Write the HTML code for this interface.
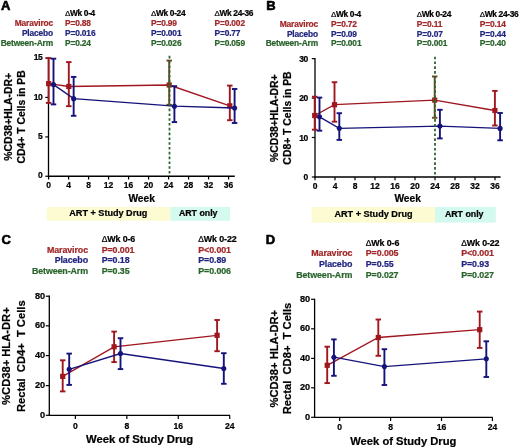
<!DOCTYPE html>
<html><head><meta charset="utf-8"><style>
html,body{margin:0;padding:0;background:#fff;width:520px;height:448px;overflow:hidden}
svg{display:block;will-change:transform}
text{font-family:"Liberation Sans", sans-serif;font-weight:bold}
</style></head><body>
<svg width="520" height="448" viewBox="0 0 520 448">
<rect width="520" height="448" fill="#fff"/>
<text x="0.9" y="10.3" font-size="13" fill="#000" text-anchor="start" stroke="#000" stroke-width="0.6">A</text>
<text x="53" y="25.6" font-size="8.4" fill="#a2282a" stroke="#a2282a" stroke-width="0.22" text-anchor="end" letter-spacing="-0.15">Maraviroc</text>
<text x="53" y="35.6" font-size="8.4" fill="#22267f" stroke="#22267f" stroke-width="0.22" text-anchor="end" letter-spacing="-0.15">Placebo</text>
<text x="53" y="45.6" font-size="8.4" fill="#2a642c" stroke="#2a642c" stroke-width="0.22" text-anchor="end" letter-spacing="-0.15">Between-Arm</text>
<text x="65" y="15.6" font-size="8.4" fill="#000" stroke="#000" stroke-width="0.22" letter-spacing="-0.35"><tspan font-weight="normal" font-size="7.9799999999999995">Δ</tspan>Wk 0-4</text>
<text x="65" y="25.6" font-size="8.4" fill="#a2282a" stroke="#a2282a" stroke-width="0.22" text-anchor="start" letter-spacing="-0.15">P=0.88</text>
<text x="65" y="35.6" font-size="8.4" fill="#22267f" stroke="#22267f" stroke-width="0.22" text-anchor="start" letter-spacing="-0.15">P=0.016</text>
<text x="65" y="45.6" font-size="8.4" fill="#2a642c" stroke="#2a642c" stroke-width="0.22" text-anchor="start" letter-spacing="-0.15">P=0.24</text>
<text x="151" y="15.6" font-size="8.4" fill="#000" stroke="#000" stroke-width="0.22" letter-spacing="-0.35"><tspan font-weight="normal" font-size="7.9799999999999995">Δ</tspan>Wk 0-24</text>
<text x="151" y="25.6" font-size="8.4" fill="#a2282a" stroke="#a2282a" stroke-width="0.22" text-anchor="start" letter-spacing="-0.15">P=0.99</text>
<text x="151" y="35.6" font-size="8.4" fill="#22267f" stroke="#22267f" stroke-width="0.22" text-anchor="start" letter-spacing="-0.15">P=0.001</text>
<text x="151" y="45.6" font-size="8.4" fill="#2a642c" stroke="#2a642c" stroke-width="0.22" text-anchor="start" letter-spacing="-0.15">P=0.026</text>
<text x="214.5" y="15.6" font-size="8.4" fill="#000" stroke="#000" stroke-width="0.22" letter-spacing="-0.35"><tspan font-weight="normal" font-size="7.9799999999999995">Δ</tspan>Wk 24-36</text>
<text x="214.5" y="25.6" font-size="8.4" fill="#a2282a" stroke="#a2282a" stroke-width="0.22" text-anchor="start" letter-spacing="-0.15">P=0.002</text>
<text x="214.5" y="35.6" font-size="8.4" fill="#22267f" stroke="#22267f" stroke-width="0.22" text-anchor="start" letter-spacing="-0.15">P=0.77</text>
<text x="214.5" y="45.6" font-size="8.4" fill="#2a642c" stroke="#2a642c" stroke-width="0.22" text-anchor="start" letter-spacing="-0.15">P=0.059</text>
<rect x="46.7" y="207" width="123.6" height="13.8" fill="#fcfbd2"/>
<rect x="170.3" y="207" width="59.7" height="13.8" fill="#d4f9ee"/>
<text x="108.3" y="216.1" font-size="9.1" fill="#000" stroke="#000" stroke-width="0.22" text-anchor="middle">ART + Study Drug</text>
<text x="198.2" y="216.1" font-size="8.8" fill="#000" stroke="#000" stroke-width="0.22" text-anchor="middle">ART only</text>
<line x1="48.5" y1="57.5" x2="48.5" y2="176.85" stroke="#000" stroke-width="1.3"/>
<line x1="47.9" y1="176.25" x2="234.8" y2="176.25" stroke="#000" stroke-width="1.3"/>
<line x1="45.3" y1="58.1" x2="48.5" y2="58.1" stroke="#000" stroke-width="1.2"/>
<text x="42.2" y="60.2" font-size="8.5" fill="#000" stroke="#000" stroke-width="0.22" text-anchor="end" letter-spacing="-0.45">15</text>
<line x1="45.3" y1="97.4" x2="48.5" y2="97.4" stroke="#000" stroke-width="1.2"/>
<text x="42.2" y="99.5" font-size="8.5" fill="#000" stroke="#000" stroke-width="0.22" text-anchor="end" letter-spacing="-0.45">10</text>
<line x1="45.3" y1="136.9" x2="48.5" y2="136.9" stroke="#000" stroke-width="1.2"/>
<text x="42.2" y="139.0" font-size="8.5" fill="#000" stroke="#000" stroke-width="0.22" text-anchor="end" letter-spacing="-0.45">5</text>
<line x1="45.3" y1="176.25" x2="48.5" y2="176.25" stroke="#000" stroke-width="1.2"/>
<text x="42.2" y="178.35" font-size="8.5" fill="#000" stroke="#000" stroke-width="0.22" text-anchor="end" letter-spacing="-0.45">0</text>
<line x1="48.6" y1="176.25" x2="48.6" y2="179.45" stroke="#000" stroke-width="1.2"/>
<text x="48.6" y="188" font-size="8.5" fill="#000" stroke="#000" stroke-width="0.22" text-anchor="middle">0</text>
<line x1="68.6" y1="176.25" x2="68.6" y2="179.45" stroke="#000" stroke-width="1.2"/>
<text x="68.6" y="188" font-size="8.5" fill="#000" stroke="#000" stroke-width="0.22" text-anchor="middle">4</text>
<line x1="88.6" y1="176.25" x2="88.6" y2="179.45" stroke="#000" stroke-width="1.2"/>
<text x="88.6" y="188" font-size="8.5" fill="#000" stroke="#000" stroke-width="0.22" text-anchor="middle">8</text>
<line x1="108.6" y1="176.25" x2="108.6" y2="179.45" stroke="#000" stroke-width="1.2"/>
<text x="108.6" y="188" font-size="8.5" fill="#000" stroke="#000" stroke-width="0.22" text-anchor="middle">12</text>
<line x1="128.6" y1="176.25" x2="128.6" y2="179.45" stroke="#000" stroke-width="1.2"/>
<text x="128.6" y="188" font-size="8.5" fill="#000" stroke="#000" stroke-width="0.22" text-anchor="middle">16</text>
<line x1="148.6" y1="176.25" x2="148.6" y2="179.45" stroke="#000" stroke-width="1.2"/>
<text x="148.6" y="188" font-size="8.5" fill="#000" stroke="#000" stroke-width="0.22" text-anchor="middle">20</text>
<line x1="168.6" y1="176.25" x2="168.6" y2="179.45" stroke="#000" stroke-width="1.2"/>
<text x="168.6" y="188" font-size="8.5" fill="#000" stroke="#000" stroke-width="0.22" text-anchor="middle">24</text>
<line x1="188.6" y1="176.25" x2="188.6" y2="179.45" stroke="#000" stroke-width="1.2"/>
<text x="188.6" y="188" font-size="8.5" fill="#000" stroke="#000" stroke-width="0.22" text-anchor="middle">28</text>
<line x1="208.6" y1="176.25" x2="208.6" y2="179.45" stroke="#000" stroke-width="1.2"/>
<text x="208.6" y="188" font-size="8.5" fill="#000" stroke="#000" stroke-width="0.22" text-anchor="middle">32</text>
<line x1="228.6" y1="176.25" x2="228.6" y2="179.45" stroke="#000" stroke-width="1.2"/>
<text x="228.6" y="188" font-size="8.5" fill="#000" stroke="#000" stroke-width="0.22" text-anchor="middle">36</text>
<text x="141.6" y="201.5" font-size="10.2" fill="#000" stroke="#000" stroke-width="0.22" text-anchor="middle">Week</text>
<text transform="translate(12,116.8) rotate(-90)" font-size="10.4" fill="#000" stroke="#000" stroke-width="0.22" text-anchor="middle" style="white-space:pre">%CD38+HLA-DR+</text>
<text transform="translate(24.6,116.9) rotate(-90)" font-size="10.4" fill="#000" stroke="#000" stroke-width="0.22" text-anchor="middle" style="white-space:pre">CD4+ T Cells in PB</text>
<path d="M48.65,83.65 L68.8,86.5 L169.2,85 L229.8,105.8" fill="none" stroke="#a0161e" stroke-width="1.35"/>
<line x1="48.65" y1="58.1" x2="48.65" y2="102.9" stroke="#a0161e" stroke-width="1.9"/>
<line x1="45.9" y1="58.1" x2="51.4" y2="58.1" stroke="#a0161e" stroke-width="1.9"/>
<line x1="45.9" y1="102.9" x2="51.4" y2="102.9" stroke="#a0161e" stroke-width="1.9"/>
<line x1="68.8" y1="62.1" x2="68.8" y2="106.2" stroke="#a0161e" stroke-width="1.9"/>
<line x1="66.05" y1="62.1" x2="71.55" y2="62.1" stroke="#a0161e" stroke-width="1.9"/>
<line x1="66.05" y1="106.2" x2="71.55" y2="106.2" stroke="#a0161e" stroke-width="1.9"/>
<line x1="169.2" y1="60.6" x2="169.2" y2="104.8" stroke="#6a4424" stroke-width="1.9"/>
<line x1="166.45" y1="60.6" x2="171.95" y2="60.6" stroke="#6a4424" stroke-width="1.9"/>
<line x1="166.45" y1="104.8" x2="171.95" y2="104.8" stroke="#6a4424" stroke-width="1.9"/>
<line x1="229.8" y1="85.6" x2="229.8" y2="120.2" stroke="#a0161e" stroke-width="1.9"/>
<line x1="227.05" y1="85.6" x2="232.55" y2="85.6" stroke="#a0161e" stroke-width="1.9"/>
<line x1="227.05" y1="120.2" x2="232.55" y2="120.2" stroke="#a0161e" stroke-width="1.9"/>
<rect x="46.05" y="81.05000000000001" width="5.2" height="5.2" fill="#a0161e"/>
<rect x="66.2" y="83.9" width="5.2" height="5.2" fill="#a0161e"/>
<rect x="166.6" y="82.4" width="5.2" height="5.2" fill="#8a2c22"/>
<rect x="227.20000000000002" y="103.2" width="5.2" height="5.2" fill="#a0161e"/>
<path d="M53.5,84.6 L73.65,98.65 L174.4,106.2 L234.6,108" fill="none" stroke="#15137a" stroke-width="1.35"/>
<line x1="53.5" y1="58.7" x2="53.5" y2="104.4" stroke="#15137a" stroke-width="1.9"/>
<line x1="50.75" y1="58.7" x2="56.25" y2="58.7" stroke="#15137a" stroke-width="1.9"/>
<line x1="50.75" y1="104.4" x2="56.25" y2="104.4" stroke="#15137a" stroke-width="1.9"/>
<line x1="73.65" y1="76.9" x2="73.65" y2="115.8" stroke="#15137a" stroke-width="1.9"/>
<line x1="70.9" y1="76.9" x2="76.4" y2="76.9" stroke="#15137a" stroke-width="1.9"/>
<line x1="70.9" y1="115.8" x2="76.4" y2="115.8" stroke="#15137a" stroke-width="1.9"/>
<line x1="174.4" y1="86.2" x2="174.4" y2="122.1" stroke="#15137a" stroke-width="1.9"/>
<line x1="171.65" y1="86.2" x2="177.15" y2="86.2" stroke="#15137a" stroke-width="1.9"/>
<line x1="171.65" y1="122.1" x2="177.15" y2="122.1" stroke="#15137a" stroke-width="1.9"/>
<line x1="234.6" y1="89" x2="234.6" y2="123" stroke="#15137a" stroke-width="1.9"/>
<line x1="231.85" y1="89" x2="237.35" y2="89" stroke="#15137a" stroke-width="1.9"/>
<line x1="231.85" y1="123" x2="237.35" y2="123" stroke="#15137a" stroke-width="1.9"/>
<circle cx="53.5" cy="84.6" r="2.55" fill="#15137a"/>
<circle cx="73.65" cy="98.65" r="2.55" fill="#15137a"/>
<circle cx="174.4" cy="106.2" r="2.55" fill="#15137a"/>
<circle cx="234.6" cy="108" r="2.55" fill="#15137a"/>
<line x1="169.5" y1="55.8" x2="169.5" y2="176" stroke="#2b682b" stroke-width="1.8" stroke-dasharray="2.6,2.2"/>
<text x="266.3" y="10.3" font-size="13" fill="#000" text-anchor="start" stroke="#000" stroke-width="0.6">B</text>
<text x="318" y="26.8" font-size="8.4" fill="#a2282a" stroke="#a2282a" stroke-width="0.22" text-anchor="end" letter-spacing="-0.15">Maraviroc</text>
<text x="318" y="36.7" font-size="8.4" fill="#22267f" stroke="#22267f" stroke-width="0.22" text-anchor="end" letter-spacing="-0.15">Placebo</text>
<text x="318" y="46.4" font-size="8.4" fill="#2a642c" stroke="#2a642c" stroke-width="0.22" text-anchor="end" letter-spacing="-0.15">Between-Arm</text>
<text x="331" y="17" font-size="8.4" fill="#000" stroke="#000" stroke-width="0.22" letter-spacing="-0.35"><tspan font-weight="normal" font-size="7.9799999999999995">Δ</tspan>Wk 0-4</text>
<text x="331" y="26.8" font-size="8.4" fill="#a2282a" stroke="#a2282a" stroke-width="0.22" text-anchor="start" letter-spacing="-0.15">P=0.72</text>
<text x="331" y="36.7" font-size="8.4" fill="#22267f" stroke="#22267f" stroke-width="0.22" text-anchor="start" letter-spacing="-0.15">P=0.09</text>
<text x="331" y="46.4" font-size="8.4" fill="#2a642c" stroke="#2a642c" stroke-width="0.22" text-anchor="start" letter-spacing="-0.15">P=0.001</text>
<text x="416.8" y="17" font-size="8.4" fill="#000" stroke="#000" stroke-width="0.22" letter-spacing="-0.35"><tspan font-weight="normal" font-size="7.9799999999999995">Δ</tspan>Wk 0-24</text>
<text x="416.8" y="26.8" font-size="8.4" fill="#a2282a" stroke="#a2282a" stroke-width="0.22" text-anchor="start" letter-spacing="-0.15">P=0.11</text>
<text x="416.8" y="36.7" font-size="8.4" fill="#22267f" stroke="#22267f" stroke-width="0.22" text-anchor="start" letter-spacing="-0.15">P=0.07</text>
<text x="416.8" y="46.4" font-size="8.4" fill="#2a642c" stroke="#2a642c" stroke-width="0.22" text-anchor="start" letter-spacing="-0.15">P=0.001</text>
<text x="479.8" y="17" font-size="8.4" fill="#000" stroke="#000" stroke-width="0.22" letter-spacing="-0.35"><tspan font-weight="normal" font-size="7.9799999999999995">Δ</tspan>Wk 24-36</text>
<text x="479.8" y="26.8" font-size="8.4" fill="#a2282a" stroke="#a2282a" stroke-width="0.22" text-anchor="start" letter-spacing="-0.15">P=0.14</text>
<text x="479.8" y="36.7" font-size="8.4" fill="#22267f" stroke="#22267f" stroke-width="0.22" text-anchor="start" letter-spacing="-0.15">P=0.44</text>
<text x="479.8" y="46.4" font-size="8.4" fill="#2a642c" stroke="#2a642c" stroke-width="0.22" text-anchor="start" letter-spacing="-0.15">P=0.40</text>
<rect x="311.5" y="207" width="123.5" height="15.6" fill="#fcfbd2"/>
<rect x="435" y="207" width="60.8" height="15.6" fill="#d4f9ee"/>
<text x="373.5" y="217.4" font-size="9.1" fill="#000" stroke="#000" stroke-width="0.22" text-anchor="middle">ART + Study Drug</text>
<text x="464.2" y="217.4" font-size="8.8" fill="#000" stroke="#000" stroke-width="0.22" text-anchor="middle">ART only</text>
<line x1="315" y1="58" x2="315" y2="177.6" stroke="#000" stroke-width="1.3"/>
<line x1="314.4" y1="177" x2="500.6" y2="177" stroke="#000" stroke-width="1.3"/>
<line x1="311.8" y1="58.65" x2="315" y2="58.65" stroke="#000" stroke-width="1.2"/>
<text x="307.9" y="61.65" font-size="8.5" fill="#000" stroke="#000" stroke-width="0.22" text-anchor="end" letter-spacing="-0.45">30</text>
<line x1="311.8" y1="98.1" x2="315" y2="98.1" stroke="#000" stroke-width="1.2"/>
<text x="307.9" y="101.1" font-size="8.5" fill="#000" stroke="#000" stroke-width="0.22" text-anchor="end" letter-spacing="-0.45">20</text>
<line x1="311.8" y1="137.5" x2="315" y2="137.5" stroke="#000" stroke-width="1.2"/>
<text x="307.9" y="140.5" font-size="8.5" fill="#000" stroke="#000" stroke-width="0.22" text-anchor="end" letter-spacing="-0.45">10</text>
<line x1="311.8" y1="177" x2="315" y2="177" stroke="#000" stroke-width="1.2"/>
<text x="307.9" y="180.0" font-size="8.5" fill="#000" stroke="#000" stroke-width="0.22" text-anchor="end" letter-spacing="-0.45">0</text>
<line x1="315" y1="177" x2="315" y2="180.2" stroke="#000" stroke-width="1.2"/>
<text x="315" y="189" font-size="8.5" fill="#000" stroke="#000" stroke-width="0.22" text-anchor="middle">0</text>
<line x1="335" y1="177" x2="335" y2="180.2" stroke="#000" stroke-width="1.2"/>
<text x="335" y="189" font-size="8.5" fill="#000" stroke="#000" stroke-width="0.22" text-anchor="middle">4</text>
<line x1="355" y1="177" x2="355" y2="180.2" stroke="#000" stroke-width="1.2"/>
<text x="355" y="189" font-size="8.5" fill="#000" stroke="#000" stroke-width="0.22" text-anchor="middle">8</text>
<line x1="375" y1="177" x2="375" y2="180.2" stroke="#000" stroke-width="1.2"/>
<text x="375" y="189" font-size="8.5" fill="#000" stroke="#000" stroke-width="0.22" text-anchor="middle">12</text>
<line x1="395" y1="177" x2="395" y2="180.2" stroke="#000" stroke-width="1.2"/>
<text x="395" y="189" font-size="8.5" fill="#000" stroke="#000" stroke-width="0.22" text-anchor="middle">16</text>
<line x1="415" y1="177" x2="415" y2="180.2" stroke="#000" stroke-width="1.2"/>
<text x="415" y="189" font-size="8.5" fill="#000" stroke="#000" stroke-width="0.22" text-anchor="middle">20</text>
<line x1="435" y1="177" x2="435" y2="180.2" stroke="#000" stroke-width="1.2"/>
<text x="435" y="189" font-size="8.5" fill="#000" stroke="#000" stroke-width="0.22" text-anchor="middle">24</text>
<line x1="455" y1="177" x2="455" y2="180.2" stroke="#000" stroke-width="1.2"/>
<text x="455" y="189" font-size="8.5" fill="#000" stroke="#000" stroke-width="0.22" text-anchor="middle">28</text>
<line x1="475" y1="177" x2="475" y2="180.2" stroke="#000" stroke-width="1.2"/>
<text x="475" y="189" font-size="8.5" fill="#000" stroke="#000" stroke-width="0.22" text-anchor="middle">32</text>
<line x1="495" y1="177" x2="495" y2="180.2" stroke="#000" stroke-width="1.2"/>
<text x="495" y="189" font-size="8.5" fill="#000" stroke="#000" stroke-width="0.22" text-anchor="middle">36</text>
<text x="407.6" y="202.3" font-size="10.2" fill="#000" stroke="#000" stroke-width="0.22" text-anchor="middle">Week</text>
<text transform="translate(278.2,118.2) rotate(-90)" font-size="10.4" fill="#000" stroke="#000" stroke-width="0.22" text-anchor="middle" style="white-space:pre">%CD38+HLA-DR+</text>
<text transform="translate(290.8,118) rotate(-90)" font-size="10.4" fill="#000" stroke="#000" stroke-width="0.22" text-anchor="middle" style="white-space:pre">CD8+ T Cells in PB</text>
<path d="M314.7,115.5 L334.5,104.7 L434.7,100.1 L494.9,110.5" fill="none" stroke="#a0161e" stroke-width="1.35"/>
<line x1="314.7" y1="96.7" x2="314.7" y2="129.7" stroke="#a0161e" stroke-width="1.9"/>
<line x1="311.95" y1="96.7" x2="317.45" y2="96.7" stroke="#a0161e" stroke-width="1.9"/>
<line x1="311.95" y1="129.7" x2="317.45" y2="129.7" stroke="#a0161e" stroke-width="1.9"/>
<line x1="334.5" y1="82.2" x2="334.5" y2="121.7" stroke="#a0161e" stroke-width="1.9"/>
<line x1="331.75" y1="82.2" x2="337.25" y2="82.2" stroke="#a0161e" stroke-width="1.9"/>
<line x1="331.75" y1="121.7" x2="337.25" y2="121.7" stroke="#a0161e" stroke-width="1.9"/>
<line x1="434.7" y1="76.5" x2="434.7" y2="117.8" stroke="#6a4424" stroke-width="1.9"/>
<line x1="431.95" y1="76.5" x2="437.45" y2="76.5" stroke="#6a4424" stroke-width="1.9"/>
<line x1="431.95" y1="117.8" x2="437.45" y2="117.8" stroke="#6a4424" stroke-width="1.9"/>
<line x1="494.9" y1="90.9" x2="494.9" y2="125.5" stroke="#a0161e" stroke-width="1.9"/>
<line x1="492.15" y1="90.9" x2="497.65" y2="90.9" stroke="#a0161e" stroke-width="1.9"/>
<line x1="492.15" y1="125.5" x2="497.65" y2="125.5" stroke="#a0161e" stroke-width="1.9"/>
<rect x="312.09999999999997" y="112.9" width="5.2" height="5.2" fill="#a0161e"/>
<rect x="331.9" y="102.10000000000001" width="5.2" height="5.2" fill="#a0161e"/>
<rect x="432.09999999999997" y="97.5" width="5.2" height="5.2" fill="#8a2c22"/>
<rect x="492.29999999999995" y="107.9" width="5.2" height="5.2" fill="#a0161e"/>
<path d="M319.5,116.8 L339.3,128.3 L439.9,126.1 L500.1,128.4" fill="none" stroke="#15137a" stroke-width="1.35"/>
<line x1="319.5" y1="97.6" x2="319.5" y2="130.7" stroke="#15137a" stroke-width="1.9"/>
<line x1="316.75" y1="97.6" x2="322.25" y2="97.6" stroke="#15137a" stroke-width="1.9"/>
<line x1="316.75" y1="130.7" x2="322.25" y2="130.7" stroke="#15137a" stroke-width="1.9"/>
<line x1="339.3" y1="113.2" x2="339.3" y2="139.9" stroke="#15137a" stroke-width="1.9"/>
<line x1="336.55" y1="113.2" x2="342.05" y2="113.2" stroke="#15137a" stroke-width="1.9"/>
<line x1="336.55" y1="139.9" x2="342.05" y2="139.9" stroke="#15137a" stroke-width="1.9"/>
<line x1="439.9" y1="109.8" x2="439.9" y2="138.4" stroke="#15137a" stroke-width="1.9"/>
<line x1="437.15" y1="109.8" x2="442.65" y2="109.8" stroke="#15137a" stroke-width="1.9"/>
<line x1="437.15" y1="138.4" x2="442.65" y2="138.4" stroke="#15137a" stroke-width="1.9"/>
<line x1="500.1" y1="113.0" x2="500.1" y2="140.3" stroke="#15137a" stroke-width="1.9"/>
<line x1="497.35" y1="113.0" x2="502.85" y2="113.0" stroke="#15137a" stroke-width="1.9"/>
<line x1="497.35" y1="140.3" x2="502.85" y2="140.3" stroke="#15137a" stroke-width="1.9"/>
<circle cx="319.5" cy="116.8" r="2.55" fill="#15137a"/>
<circle cx="339.3" cy="128.3" r="2.55" fill="#15137a"/>
<circle cx="439.9" cy="126.1" r="2.55" fill="#15137a"/>
<circle cx="500.1" cy="128.4" r="2.55" fill="#15137a"/>
<line x1="435" y1="56.7" x2="435" y2="177" stroke="#2b682b" stroke-width="1.8" stroke-dasharray="2.6,2.2"/>
<text x="1.6" y="243.9" font-size="13" fill="#000" text-anchor="start" stroke="#000" stroke-width="0.6">C</text>
<text x="88" y="252.6" font-size="8.9" fill="#a2282a" stroke="#a2282a" stroke-width="0.22" text-anchor="end" letter-spacing="-0.1">Maraviroc</text>
<text x="88" y="263.4" font-size="8.9" fill="#22267f" stroke="#22267f" stroke-width="0.22" text-anchor="end" letter-spacing="-0.1">Placebo</text>
<text x="88" y="274.1" font-size="8.9" fill="#2a642c" stroke="#2a642c" stroke-width="0.22" text-anchor="end" letter-spacing="-0.1">Between-Arm</text>
<text x="101.7" y="241.8" font-size="8.9" fill="#000" stroke="#000" stroke-width="0.22" letter-spacing="-0.12"><tspan font-weight="normal" font-size="8.455">Δ</tspan>Wk 0-6</text>
<text x="101.7" y="252.6" font-size="8.9" fill="#a2282a" stroke="#a2282a" stroke-width="0.22" text-anchor="start" letter-spacing="-0.1">P=0.001</text>
<text x="101.7" y="263.4" font-size="8.9" fill="#22267f" stroke="#22267f" stroke-width="0.22" text-anchor="start" letter-spacing="-0.1">P=0.18</text>
<text x="101.7" y="274.1" font-size="8.9" fill="#2a642c" stroke="#2a642c" stroke-width="0.22" text-anchor="start" letter-spacing="-0.1">P=0.35</text>
<text x="198.3" y="241.8" font-size="8.9" fill="#000" stroke="#000" stroke-width="0.22" letter-spacing="-0.12"><tspan font-weight="normal" font-size="8.455">Δ</tspan>Wk 0-22</text>
<text x="198.3" y="252.6" font-size="8.9" fill="#a2282a" stroke="#a2282a" stroke-width="0.22" text-anchor="start" letter-spacing="-0.1">P&lt;0.001</text>
<text x="198.3" y="263.4" font-size="8.9" fill="#22267f" stroke="#22267f" stroke-width="0.22" text-anchor="start" letter-spacing="-0.1">P=0.89</text>
<text x="198.3" y="274.1" font-size="8.9" fill="#2a642c" stroke="#2a642c" stroke-width="0.22" text-anchor="start" letter-spacing="-0.1">P=0.006</text>
<line x1="49.3" y1="295.6" x2="49.3" y2="415.90000000000003" stroke="#000" stroke-width="1.3"/>
<line x1="48.699999999999996" y1="415.3" x2="230" y2="415.3" stroke="#000" stroke-width="1.3"/>
<line x1="45.8" y1="296.2" x2="49.3" y2="296.2" stroke="#000" stroke-width="1.2"/>
<text x="45.2" y="298.7" font-size="9.2" fill="#000" stroke="#000" stroke-width="0.22" text-anchor="end">80</text>
<line x1="45.8" y1="325.8" x2="49.3" y2="325.8" stroke="#000" stroke-width="1.2"/>
<text x="45.2" y="328.3" font-size="9.2" fill="#000" stroke="#000" stroke-width="0.22" text-anchor="end">60</text>
<line x1="45.8" y1="355.6" x2="49.3" y2="355.6" stroke="#000" stroke-width="1.2"/>
<text x="45.2" y="358.1" font-size="9.2" fill="#000" stroke="#000" stroke-width="0.22" text-anchor="end">40</text>
<line x1="45.8" y1="385.6" x2="49.3" y2="385.6" stroke="#000" stroke-width="1.2"/>
<text x="45.2" y="388.1" font-size="9.2" fill="#000" stroke="#000" stroke-width="0.22" text-anchor="end">20</text>
<line x1="45.8" y1="415.3" x2="49.3" y2="415.3" stroke="#000" stroke-width="1.2"/>
<text x="45.2" y="417.8" font-size="9.2" fill="#000" stroke="#000" stroke-width="0.22" text-anchor="end">0</text>
<line x1="75.4" y1="415.3" x2="75.4" y2="418.90000000000003" stroke="#000" stroke-width="1.2"/>
<text x="75.4" y="428.8" font-size="8.6" fill="#000" stroke="#000" stroke-width="0.22" text-anchor="middle">0</text>
<line x1="126.84" y1="415.3" x2="126.84" y2="418.90000000000003" stroke="#000" stroke-width="1.2"/>
<text x="126.84" y="428.8" font-size="8.6" fill="#000" stroke="#000" stroke-width="0.22" text-anchor="middle">8</text>
<line x1="178.28" y1="415.3" x2="178.28" y2="418.90000000000003" stroke="#000" stroke-width="1.2"/>
<text x="178.28" y="428.8" font-size="8.6" fill="#000" stroke="#000" stroke-width="0.22" text-anchor="middle">16</text>
<line x1="229.72" y1="415.3" x2="229.72" y2="418.90000000000003" stroke="#000" stroke-width="1.2"/>
<text x="229.72" y="428.8" font-size="8.6" fill="#000" stroke="#000" stroke-width="0.22" text-anchor="middle">24</text>
<text x="139.6" y="443.3" font-size="11.3" fill="#000" stroke="#000" stroke-width="0.22" text-anchor="middle">Week of Study Drug</text>
<text transform="translate(10.4,356.1) rotate(-90)" font-size="11.2" fill="#000" stroke="#000" stroke-width="0.22" text-anchor="middle" style="white-space:pre">%CD38+ HLA-DR+</text>
<text transform="translate(25.4,356.2) rotate(-90)" font-size="11.2" fill="#000" stroke="#000" stroke-width="0.22" text-anchor="middle" style="white-space:pre">Rectal  CD4+  T Cells</text>
<path d="M62.7,376.4 L114.1,346.8 L217.1,335.3" fill="none" stroke="#a0161e" stroke-width="1.35"/>
<line x1="62.7" y1="360.3" x2="62.7" y2="391.4" stroke="#a0161e" stroke-width="1.9"/>
<line x1="59.95" y1="360.3" x2="65.45" y2="360.3" stroke="#a0161e" stroke-width="1.9"/>
<line x1="59.95" y1="391.4" x2="65.45" y2="391.4" stroke="#a0161e" stroke-width="1.9"/>
<line x1="114.1" y1="331.6" x2="114.1" y2="362.1" stroke="#a0161e" stroke-width="1.9"/>
<line x1="111.35" y1="331.6" x2="116.85" y2="331.6" stroke="#a0161e" stroke-width="1.9"/>
<line x1="111.35" y1="362.1" x2="116.85" y2="362.1" stroke="#a0161e" stroke-width="1.9"/>
<line x1="217.1" y1="320.0" x2="217.1" y2="351.2" stroke="#a0161e" stroke-width="1.9"/>
<line x1="214.35" y1="320.0" x2="219.85" y2="320.0" stroke="#a0161e" stroke-width="1.9"/>
<line x1="214.35" y1="351.2" x2="219.85" y2="351.2" stroke="#a0161e" stroke-width="1.9"/>
<rect x="60.1" y="373.79999999999995" width="5.2" height="5.2" fill="#a0161e"/>
<rect x="111.5" y="344.2" width="5.2" height="5.2" fill="#a0161e"/>
<rect x="214.5" y="332.7" width="5.2" height="5.2" fill="#a0161e"/>
<path d="M69.2,369.3 L120.5,353.5 L223.8,368.5" fill="none" stroke="#15137a" stroke-width="1.35"/>
<line x1="69.2" y1="353.6" x2="69.2" y2="384.9" stroke="#15137a" stroke-width="1.9"/>
<line x1="66.45" y1="353.6" x2="71.95" y2="353.6" stroke="#15137a" stroke-width="1.9"/>
<line x1="66.45" y1="384.9" x2="71.95" y2="384.9" stroke="#15137a" stroke-width="1.9"/>
<line x1="120.5" y1="338.2" x2="120.5" y2="369.1" stroke="#15137a" stroke-width="1.9"/>
<line x1="117.75" y1="338.2" x2="123.25" y2="338.2" stroke="#15137a" stroke-width="1.9"/>
<line x1="117.75" y1="369.1" x2="123.25" y2="369.1" stroke="#15137a" stroke-width="1.9"/>
<line x1="223.8" y1="353.2" x2="223.8" y2="383.8" stroke="#15137a" stroke-width="1.9"/>
<line x1="221.05" y1="353.2" x2="226.55" y2="353.2" stroke="#15137a" stroke-width="1.9"/>
<line x1="221.05" y1="383.8" x2="226.55" y2="383.8" stroke="#15137a" stroke-width="1.9"/>
<circle cx="69.2" cy="369.3" r="2.55" fill="#15137a"/>
<circle cx="120.5" cy="353.5" r="2.55" fill="#15137a"/>
<circle cx="223.8" cy="368.5" r="2.55" fill="#15137a"/>
<text x="265.8" y="244.1" font-size="13" fill="#000" text-anchor="start" stroke="#000" stroke-width="0.6">D</text>
<text x="352.3" y="256.2" font-size="8.9" fill="#a2282a" stroke="#a2282a" stroke-width="0.22" text-anchor="end" letter-spacing="-0.1">Maraviroc</text>
<text x="352.3" y="267" font-size="8.9" fill="#22267f" stroke="#22267f" stroke-width="0.22" text-anchor="end" letter-spacing="-0.1">Placebo</text>
<text x="352.3" y="277.7" font-size="8.9" fill="#2a642c" stroke="#2a642c" stroke-width="0.22" text-anchor="end" letter-spacing="-0.1">Between-Arm</text>
<text x="365.8" y="246" font-size="8.9" fill="#000" stroke="#000" stroke-width="0.22" letter-spacing="-0.12"><tspan font-weight="normal" font-size="8.455">Δ</tspan>Wk 0-6</text>
<text x="365.8" y="256.2" font-size="8.9" fill="#a2282a" stroke="#a2282a" stroke-width="0.22" text-anchor="start" letter-spacing="-0.1">P=0.005</text>
<text x="365.8" y="267" font-size="8.9" fill="#22267f" stroke="#22267f" stroke-width="0.22" text-anchor="start" letter-spacing="-0.1">P=0.55</text>
<text x="365.8" y="277.7" font-size="8.9" fill="#2a642c" stroke="#2a642c" stroke-width="0.22" text-anchor="start" letter-spacing="-0.1">P=0.027</text>
<text x="461.2" y="246" font-size="8.9" fill="#000" stroke="#000" stroke-width="0.22" letter-spacing="-0.12"><tspan font-weight="normal" font-size="8.455">Δ</tspan>Wk 0-22</text>
<text x="461.2" y="256.2" font-size="8.9" fill="#a2282a" stroke="#a2282a" stroke-width="0.22" text-anchor="start" letter-spacing="-0.1">P&lt;0.001</text>
<text x="461.2" y="267" font-size="8.9" fill="#22267f" stroke="#22267f" stroke-width="0.22" text-anchor="start" letter-spacing="-0.1">P=0.93</text>
<text x="461.2" y="277.7" font-size="8.9" fill="#2a642c" stroke="#2a642c" stroke-width="0.22" text-anchor="start" letter-spacing="-0.1">P=0.027</text>
<line x1="314.6" y1="298.7" x2="314.6" y2="417.90000000000003" stroke="#000" stroke-width="1.3"/>
<line x1="314.0" y1="417.3" x2="492.8" y2="417.3" stroke="#000" stroke-width="1.3"/>
<line x1="311.1" y1="299.3" x2="314.6" y2="299.3" stroke="#000" stroke-width="1.2"/>
<text x="310.2" y="301.8" font-size="9.2" fill="#000" stroke="#000" stroke-width="0.22" text-anchor="end">80</text>
<line x1="311.1" y1="328.8" x2="314.6" y2="328.8" stroke="#000" stroke-width="1.2"/>
<text x="310.2" y="331.3" font-size="9.2" fill="#000" stroke="#000" stroke-width="0.22" text-anchor="end">60</text>
<line x1="311.1" y1="358.4" x2="314.6" y2="358.4" stroke="#000" stroke-width="1.2"/>
<text x="310.2" y="360.9" font-size="9.2" fill="#000" stroke="#000" stroke-width="0.22" text-anchor="end">40</text>
<line x1="311.1" y1="387.8" x2="314.6" y2="387.8" stroke="#000" stroke-width="1.2"/>
<text x="310.2" y="390.3" font-size="9.2" fill="#000" stroke="#000" stroke-width="0.22" text-anchor="end">20</text>
<line x1="311.1" y1="417.3" x2="314.6" y2="417.3" stroke="#000" stroke-width="1.2"/>
<text x="310.2" y="419.8" font-size="9.2" fill="#000" stroke="#000" stroke-width="0.22" text-anchor="end">0</text>
<line x1="339.7" y1="417.3" x2="339.7" y2="421.1" stroke="#000" stroke-width="1.2"/>
<text x="339.7" y="430.4" font-size="8.6" fill="#000" stroke="#000" stroke-width="0.22" text-anchor="middle">0</text>
<line x1="390.604" y1="417.3" x2="390.604" y2="421.1" stroke="#000" stroke-width="1.2"/>
<text x="390.604" y="430.4" font-size="8.6" fill="#000" stroke="#000" stroke-width="0.22" text-anchor="middle">8</text>
<line x1="441.508" y1="417.3" x2="441.508" y2="421.1" stroke="#000" stroke-width="1.2"/>
<text x="441.508" y="430.4" font-size="8.6" fill="#000" stroke="#000" stroke-width="0.22" text-anchor="middle">16</text>
<line x1="492.41200000000003" y1="417.3" x2="492.41200000000003" y2="421.1" stroke="#000" stroke-width="1.2"/>
<text x="492.41200000000003" y="430.4" font-size="8.6" fill="#000" stroke="#000" stroke-width="0.22" text-anchor="middle">24</text>
<text x="403.3" y="445" font-size="11.2" fill="#000" stroke="#000" stroke-width="0.22" text-anchor="middle">Week of Study Drug</text>
<text transform="translate(277.5,358.7) rotate(-90)" font-size="11.2" fill="#000" stroke="#000" stroke-width="0.22" text-anchor="middle" style="white-space:pre">%CD38+ HLA-DR+</text>
<text transform="translate(291,358.5) rotate(-90)" font-size="11.2" fill="#000" stroke="#000" stroke-width="0.22" text-anchor="middle" style="white-space:pre">Rectal  CD8+  T Cells</text>
<path d="M327.2,365.3 L378.3,337.5 L479.7,329.7" fill="none" stroke="#a0161e" stroke-width="1.35"/>
<line x1="327.2" y1="346.7" x2="327.2" y2="383.1" stroke="#a0161e" stroke-width="1.9"/>
<line x1="324.45" y1="346.7" x2="329.95" y2="346.7" stroke="#a0161e" stroke-width="1.9"/>
<line x1="324.45" y1="383.1" x2="329.95" y2="383.1" stroke="#a0161e" stroke-width="1.9"/>
<line x1="378.3" y1="319.5" x2="378.3" y2="355.8" stroke="#a0161e" stroke-width="1.9"/>
<line x1="375.55" y1="319.5" x2="381.05" y2="319.5" stroke="#a0161e" stroke-width="1.9"/>
<line x1="375.55" y1="355.8" x2="381.05" y2="355.8" stroke="#a0161e" stroke-width="1.9"/>
<line x1="479.7" y1="311.6" x2="479.7" y2="347.9" stroke="#a0161e" stroke-width="1.9"/>
<line x1="476.95" y1="311.6" x2="482.45" y2="311.6" stroke="#a0161e" stroke-width="1.9"/>
<line x1="476.95" y1="347.9" x2="482.45" y2="347.9" stroke="#a0161e" stroke-width="1.9"/>
<rect x="324.59999999999997" y="362.7" width="5.2" height="5.2" fill="#a0161e"/>
<rect x="375.7" y="334.9" width="5.2" height="5.2" fill="#a0161e"/>
<rect x="477.09999999999997" y="327.09999999999997" width="5.2" height="5.2" fill="#a0161e"/>
<path d="M333.9,357.2 L384.4,366.6 L486.3,358.8" fill="none" stroke="#15137a" stroke-width="1.35"/>
<line x1="333.9" y1="339.4" x2="333.9" y2="375.8" stroke="#15137a" stroke-width="1.9"/>
<line x1="331.15" y1="339.4" x2="336.65" y2="339.4" stroke="#15137a" stroke-width="1.9"/>
<line x1="331.15" y1="375.8" x2="336.65" y2="375.8" stroke="#15137a" stroke-width="1.9"/>
<line x1="384.4" y1="349.2" x2="384.4" y2="385" stroke="#15137a" stroke-width="1.9"/>
<line x1="381.65" y1="349.2" x2="387.15" y2="349.2" stroke="#15137a" stroke-width="1.9"/>
<line x1="381.65" y1="385" x2="387.15" y2="385" stroke="#15137a" stroke-width="1.9"/>
<line x1="486.3" y1="341.3" x2="486.3" y2="377" stroke="#15137a" stroke-width="1.9"/>
<line x1="483.55" y1="341.3" x2="489.05" y2="341.3" stroke="#15137a" stroke-width="1.9"/>
<line x1="483.55" y1="377" x2="489.05" y2="377" stroke="#15137a" stroke-width="1.9"/>
<circle cx="333.9" cy="357.2" r="2.55" fill="#15137a"/>
<circle cx="384.4" cy="366.6" r="2.55" fill="#15137a"/>
<circle cx="486.3" cy="358.8" r="2.55" fill="#15137a"/>
</svg>
</body></html>
